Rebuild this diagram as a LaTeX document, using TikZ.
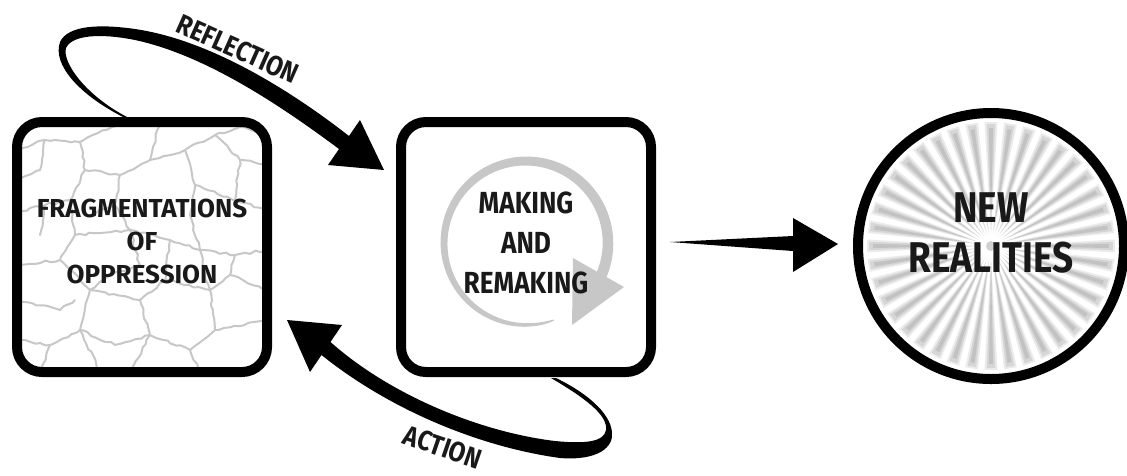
\documentclass[tikz,border=0pt]{standalone}
\usepackage{fontspec}
\setmainfont{Fira Sans}
\newfontfamily\condfont{Fira Sans}[FakeStretch=0.86]
\usetikzlibrary{calc, decorations.pathmorphing}

\tikzset{
	panel/.style={draw, line width=10pt, rounded corners=25pt, minimum width=250pt, minimum height=250pt},
	ring/.style={draw, circle, line width=10pt, minimum size=266pt},
	caption/.style={align=center, text=black!90, font=\bfseries\fontsize{26}{33}\selectfont},
	crack/.style={black!22, line width=2pt, line join=round, line cap=round,
		decorate, decoration={random steps, segment length=5pt, amplitude=1.2pt}},
}

\begin{document}
\begin{tikzpicture}[x=1pt, y=-1pt]
	\useasboundingbox (0,0) rectangle (1127,475);
	\pgfmathsetseed{7}
	% cracked ground behind the first panel
	\begin{scope}
		\clip[rounded corners=25pt] (17,122) rectangle (267,372);
		\draw[crack] (18,150) -- (45,140) -- (80,142) -- (110,128) -- (125,122);
		\draw[crack] (80,142) -- (85,170) -- (70,200) -- (45,205) -- (18,212);
		\draw[crack] (85,170) -- (120,175) -- (150,160) -- (185,150) -- (215,135) -- (240,127);
		\draw[crack] (150,160) -- (160,122);
		\draw[crack] (185,150) -- (195,185) -- (190,215) -- (200,250);
		\draw[crack] (215,135) -- (240,160) -- (267,165);
		\draw[crack] (240,160) -- (235,200) -- (267,210);
		\draw[crack] (120,175) -- (115,205) -- (130,230) -- (170,240) -- (200,250) -- (235,255) -- (267,250);
		\draw[crack] (70,200) -- (75,235) -- (60,260) -- (18,265);
		\draw[crack] (75,235) -- (130,230);
		\draw[crack] (60,260) -- (90,290) -- (80,330) -- (50,345) -- (18,340);
		\draw[crack] (90,290) -- (140,300) -- (165,280) -- (170,240);
		\draw[crack] (140,300) -- (150,335) -- (130,372);
		\draw[crack] (165,280) -- (210,290) -- (230,275) -- (235,255);
		\draw[crack] (210,290) -- (215,330) -- (190,350) -- (150,335);
		\draw[crack] (215,330) -- (267,320);
		\draw[crack] (80,330) -- (100,372);
		\draw[crack] (50,345) -- (40,372);
		\draw[crack] (230,275) -- (267,290);
		\draw[crack] (190,350) -- (200,372);
		\draw[crack] (18,300) -- (60,310) -- (75,300);
		\draw[crack] (45,205) -- (40,235);
		\draw[crack] (115,205) -- (90,215);
		\draw[crack] (195,185) -- (235,200);
		\draw[crack] (45,140) -- (40,170) -- (18,180);
		\draw[crack] (130,230) -- (140,265) -- (110,275) -- (90,290);
		\draw[crack] (150,335) -- (115,345) -- (80,330);
		\draw[crack] (240,127) -- (267,135);
		\draw[crack] (200,250) -- (205,275) -- (210,290);
	\end{scope}
	% rays behind the circle
	\begin{scope}[shift={(991,246)}]
		\foreach \a in {0,9,...,351} {
			\fill[black!8] (\a-3:124) -- (\a+3:124) -- (\a:12) -- cycle;
			\fill[black!16] (\a-2:122) -- (\a+2:122) -- (\a:16) -- cycle;
			\fill[black!24] (\a-1:118) -- (\a+1:118) -- (\a:24) -- cycle;
		}
		\fill[black!18] (0,0) circle (5);
	\end{scope}
	% grey turning arrow in the second panel
	\fill[black!22] plot[domain=0:315, samples=90]
		({526+(82+0.5*(1+10*sqrt(\x/315)))*cos(70+\x)}, {243+(82+0.5*(1+10*sqrt(\x/315)))*sin(70+\x)})
		-- plot[domain=0:315, samples=90]
		({526+(82-0.5*(1+10*sqrt((315-\x)/315)))*cos(385-\x)}, {243+(82-0.5*(1+10*sqrt((315-\x)/315)))*sin(385-\x)})
		-- cycle;
	\fill[black!22] (573,258) -- (624,287) -- (572,325) -- cycle;

	\node[panel] (frag) at (142,247) {};
	\node[panel] (make) at (526,247) {};
	\node[ring] (new) at (991,246) {};

	\node[caption] (fragtext) at (142,241) {FRAGMENTATIONS\\OF\\OPPRESSION};
	\node[caption, font=\condfont\bfseries\fontsize{30.5}{40}\selectfont] (maketext) at (526,243) {MAKING\\AND\\REMAKING};
	\node[caption, font=\condfont\bfseries\fontsize{43}{50}\selectfont] (newtext) at (991,233) {NEW\\REALITIES};

	% reflection loop
	\fill (123,117) .. controls (80,95) and (52,65) .. (60,42)
		.. controls (68,25) and (100,24) .. (135,29)
		.. controls (210,40) and (290,90) .. (349,136)
		-- (360,120) -- (384,170) -- (328,165) -- (339,149)
		.. controls (280,105) and (205,55) .. (135,40)
		.. controls (100,33) and (72,35) .. (66,48)
		.. controls (62,62) and (85,95) .. (127,117) -- cycle;
	\node[rotate=-24, caption, font=\condfont\bfseries\fontsize{28}{28}\selectfont] (refl) at (238,49) {REFLECTION};

	% action loop
	\fill (551,378) .. controls (585,398) and (608,415) .. (606,430)
		.. controls (604,442) and (585,444) .. (555,441)
		.. controls (480,432) and (390,395) .. (330.5,342)
		-- (342,325) -- (287,320) -- (310,372) -- (321.5,355)
		.. controls (390,410) and (480,447) .. (560,458)
		.. controls (598,461) and (614,447) .. (612,432)
		.. controls (610,412) and (585,392) .. (556,378) -- cycle;
	\node[rotate=-19, caption, font=\condfont\bfseries\fontsize{28}{28}\selectfont] (act) at (443,447) {ACTION};

	% towards new realities
	\fill ($(make.east)+(14,-5)$) -- ($(new.west)+(-60,-10)$) -- ($(new.west)+(-60,-28)$)
		-- ($(new.west)+(-15,-2)$) -- ($(new.west)+(-60,26)$) -- ($(new.west)+(-60,5)$) -- cycle;
\end{tikzpicture}
\end{document}
